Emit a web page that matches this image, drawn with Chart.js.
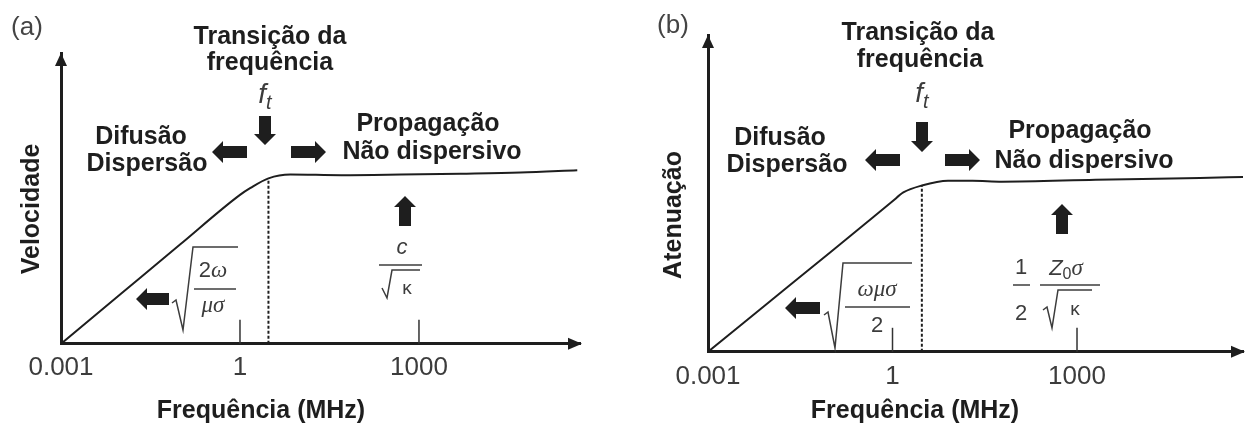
<!DOCTYPE html>
<html lang="pt">
<head>
<meta charset="utf-8">
<title>Velocidade e atenuação vs frequência</title>
<script src="https://cdn.jsdelivr.net/npm/chart.js@4.4.1/dist/chart.umd.min.js"></script>
<style>
  html, body { margin: 0; padding: 0; background: #fff; }
  #wrap { position: relative; width: 1251px; height: 426px; }
  .panel { position: absolute; top: 0; height: 426px; }
  #pa { left: 0; width: 625px; }
  #pb { left: 625px; width: 626px; }
</style>
</head>
<body>
<div id="wrap">
  <div class="panel" id="pa"><canvas id="chartA"></canvas></div>
  <div class="panel" id="pb"><canvas id="chartB"></canvas></div>
</div>
<script>
// Dados (unidades arbitrárias no eixo y)
const tickVals = [0.001, 1, 1000];
const tickLabels = ["0.001", "1", "1000"];
const freqMin = 0.001;
const freqMax = 500000;
const ft = 3; // MHz, frequência de transição

const freqVel = [0.001, 0.01, 0.1, 1, 1.5, 3, 7, 50, 500, 5000, 50000, 450000];
const vel = [0, 1.71, 3.42, 5.12, 5.36, 5.69, 5.82, 5.80, 5.82, 5.85, 5.89, 5.97];
const velFt = 5.69;

const freqAten = [0.001, 0.01, 0.1, 1, 1.5, 3, 8, 20, 60, 2000, 100000, 500000];
const aten = [0, 1.58, 3.16, 4.75, 5.03, 5.25, 5.40, 5.40, 5.37, 5.43, 5.49, 5.52];
const atenFt = 5.25;

Chart.defaults.font.family = "'Liberation Sans', Arial, sans-serif";

const INK = "#1e1e1e";
const GRAY = "#3c3c3c";
const BOLD = "bold 25px 'Liberation Sans'";
const SANS = "22px 'Liberation Sans'";
const KAPPA = "19px 'Liberation Sans'";
const SANS_I = "italic 22px 'Liberation Sans'";
const SERIF_I = "italic 23px 'Liberation Serif'";

// seta "bloco" de (x1,y1) até (x2,y2)
function seta(ctx, x1, y1, x2, y2) {
    const ang = Math.atan2(y2 - y1, x2 - x1);
    const len = Math.hypot(x2 - x1, y2 - y1);
    const sw = 6, hw = 11, hl = 11;
    ctx.save();
    ctx.translate(x1, y1);
    ctx.rotate(ang);
    ctx.fillStyle = INK;
    ctx.beginPath();
    ctx.moveTo(0, -sw);
    ctx.lineTo(len - hl, -sw);
    ctx.lineTo(len - hl, -hw);
    ctx.lineTo(len, 0);
    ctx.lineTo(len - hl, hw);
    ctx.lineTo(len - hl, sw);
    ctx.lineTo(0, sw);
    ctx.closePath();
    ctx.fill();
    ctx.restore();
}

// texto composto por vários trechos (fonte, deslocamento vertical)
function trechos(ctx, parts, cx, cy) {
    let w = 0;
    parts.forEach(p => { ctx.font = p[1]; w += ctx.measureText(p[0]).width; });
    let x = cx - w / 2;
    ctx.textAlign = "left";
    parts.forEach(p => {
        ctx.font = p[1];
        ctx.fillText(p[0], x, cy + (p[2] || 0));
        x += ctx.measureText(p[0]).width;
    });
}

function linha(ctx, pts, lw) {
    ctx.lineWidth = lw || 1.5;
    ctx.beginPath();
    pts.forEach((p, i) => i ? ctx.lineTo(p[0], p[1]) : ctx.moveTo(p[0], p[1]));
    ctx.stroke();
}

// Plugin para setas dos eixos, marcas e anotações
const esquema = {
    id: "esquema",
    afterDraw(chart, args, o) {
        const ctx = chart.ctx;
        const { left, right, top, bottom } = chart.chartArea;
        const xs = chart.scales.x;
        ctx.save();

        // pontas de seta dos eixos
        ctx.fillStyle = INK;
        ctx.beginPath();
        ctx.moveTo(left, top);
        ctx.lineTo(left - 6, top + 13);
        ctx.lineTo(left + 6, top + 13);
        ctx.closePath();
        ctx.fill();
        ctx.beginPath();
        ctx.moveTo(right + 2, bottom);
        ctx.lineTo(right - 12, bottom - 6);
        ctx.lineTo(right - 12, bottom + 6);
        ctx.closePath();
        ctx.fill();

        // marcas internas do eixo x
        ctx.strokeStyle = "#333";
        tickVals.slice(1).forEach(v => {
            const px = xs.getPixelForValue(v);
            linha(ctx, [[px, bottom], [px, bottom - 24]], 1.5);
        });

        // textos
        ctx.textBaseline = "middle";
        o.textos.forEach(t => {
            ctx.font = t.font || BOLD;
            ctx.fillStyle = t.cor || INK;
            ctx.textAlign = "center";
            if (t.rot) {
                ctx.save();
                ctx.translate(t.x, t.y);
                ctx.rotate(-Math.PI / 2);
                ctx.fillText(t.s, 0, 0);
                ctx.restore();
            } else {
                ctx.fillText(t.s, t.x, t.y);
            }
        });

        // f_t
        ctx.fillStyle = GRAY;
        trechos(ctx, [["f", "italic 28px 'Liberation Sans'"], ["t", "italic 20px 'Liberation Sans'", 8]], o.ft[0], o.ft[1]);

        // setas
        o.setas.forEach(s => seta(ctx, s[0], s[1], s[2], s[3]));

        // fórmulas
        ctx.strokeStyle = GRAY;
        ctx.fillStyle = GRAY;
        o.formulas.forEach(f => {
            if (f.raiz) linha(ctx, f.raiz, 1.5);
            if (f.barra) linha(ctx, [[f.barra[0], f.barra[2]], [f.barra[1], f.barra[2]]], 1.5);
            f.partes.forEach(p => trechos(ctx, p.t, p.x, p.y));
        });

        ctx.restore();
    }
};

function criarGrafico(id, freq, vals, valFt, cfg) {
    const pontos = freq.map((f, i) => ({ x: f, y: vals[i] }));
    const pontilhado = [{ x: ft, y: 0 }, { x: ft, y: valFt }];
    return new Chart(document.getElementById(id), {
        type: "line",
        data: {
            datasets: [{
                data: pontos,
                borderColor: INK,
                borderWidth: 2,
                pointRadius: 0,
                cubicInterpolationMode: "monotone",
                fill: false
            }, {
                data: pontilhado,
                borderColor: INK,
                borderWidth: 2,
                borderDash: [3, 2],
                pointRadius: 0,
                fill: false
            }]
        },
        options: {
            responsive: true,
            maintainAspectRatio: false,
            animation: false,
            events: [],
            layout: { padding: cfg.pad },
            plugins: {
                legend: { display: false },
                tooltip: { enabled: false },
                esquema: cfg.anot
            },
            scales: {
                x: {
                    type: "logarithmic",
                    min: freqMin,
                    max: freqMax,
                    afterBuildTicks: s => { s.ticks = tickVals.map(v => ({ value: v })); },
                    grid: { display: false, drawTicks: false },
                    border: { display: true, color: INK, width: 3 },
                    ticks: {
                        autoSkip: false,
                        maxRotation: 0,
                        padding: cfg.tickPad,
                        color: GRAY,
                        font: { size: 26 },
                        callback: (v, i) => tickLabels[i]
                    }
                },
                y: {
                    type: "linear",
                    min: 0,
                    max: 10,
                    grid: { display: false, drawTicks: false },
                    border: { display: true, color: INK, width: 3 },
                    ticks: { display: false }
                }
            }
        },
        plugins: [esquema]
    });
}

criarGrafico("chartA", freqVel, vel, velFt, {
    pad: { left: 61, right: 45, top: 53, bottom: 35 },
    tickPad: 8,
    anot: {
        ft: [265, 95],
        textos: [
            { s: "(a)", x: 27, y: 28, font: "26px 'Liberation Sans'", cor: "#444" },
            { s: "Transição da", x: 270, y: 37 },
            { s: "frequência", x: 270, y: 63 },
            { s: "Difusão", x: 141, y: 137 },
            { s: "Dispersão", x: 147, y: 164 },
            { s: "Propagação", x: 428, y: 124 },
            { s: "Não dispersivo", x: 432, y: 152 },
            { s: "Velocidade", x: 32, y: 209, rot: true },
            { s: "Frequência (MHz)", x: 261, y: 411 }
        ],
        setas: [
            [265, 116, 265, 145],
            [247, 152, 212, 152],
            [291, 152, 326, 152],
            [405, 226, 405, 196],
            [169, 299, 136, 299]
        ],
        formulas: [
            {
                raiz: [[172, 303], [176, 300], [183, 330], [193, 247], [238, 247]],
                barra: [194, 236, 289],
                partes: [
                    { t: [["2", SANS], ["ω", SERIF_I]], x: 213, y: 271 },
                    { t: [["μσ", SERIF_I]], x: 213, y: 306 }
                ]
            },
            {
                raiz: [[382, 288], [387, 298], [392, 270], [420, 270]],
                barra: [379, 422, 265],
                partes: [
                    { t: [["c", SANS_I]], x: 402, y: 248 },
                    { t: [["κ", KAPPA]], x: 407, y: 289 }
                ]
            }
        ]
    }
});

criarGrafico("chartB", freqAten, aten, atenFt, {
    pad: { left: 83, right: 8, top: 35, bottom: 25 },
    tickPad: 9,
    anot: {
        ft: [297, 94],
        textos: [
            { s: "(b)", x: 48, y: 26, font: "26px 'Liberation Sans'", cor: "#444" },
            { s: "Transição da", x: 293, y: 33 },
            { s: "frequência", x: 295, y: 60 },
            { s: "Difusão", x: 155, y: 138 },
            { s: "Dispersão", x: 162, y: 165 },
            { s: "Propagação", x: 455, y: 131 },
            { s: "Não dispersivo", x: 459, y: 161 },
            { s: "Atenuação", x: 49, y: 215, rot: true },
            { s: "Frequência (MHz)", x: 290, y: 411 }
        ],
        setas: [
            [297, 122, 297, 152],
            [275, 160, 240, 160],
            [320, 160, 355, 160],
            [437, 234, 437, 204],
            [195, 308, 160, 308]
        ],
        formulas: [
            {
                raiz: [[199, 315], [203, 312], [210, 348], [218, 263], [287, 263]],
                barra: [220, 285, 307],
                partes: [
                    { t: [["ωμσ", SERIF_I]], x: 252, y: 290 },
                    { t: [["2", SANS]], x: 252, y: 326 }
                ]
            },
            {
                barra: [388, 405, 285],
                partes: [
                    { t: [["1", SANS]], x: 396, y: 268 },
                    { t: [["2", SANS]], x: 396, y: 314 }
                ]
            },
            {
                raiz: [[418, 310], [422, 307], [427, 328], [433, 290], [467, 290]],
                barra: [415, 475, 285],
                partes: [
                    { t: [["Z", SANS_I], ["0", "16px 'Liberation Sans'", 6], ["σ", SERIF_I]], x: 441, y: 269 },
                    { t: [["κ", KAPPA]], x: 450, y: 310 }
                ]
            }
        ]
    }
});
</script>
</body>
</html>
